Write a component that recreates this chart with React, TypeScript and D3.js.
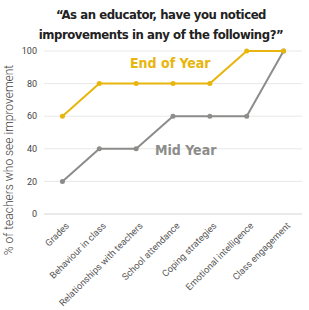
import React, { useEffect, useRef } from "react";
import * as d3 from "d3";

const categories = [
  "Grades",
  "Behaviour in class",
  "Relationships with teachers",
  "School attendance",
  "Coping strategies",
  "Emotional intelligence",
  "Class engagement",
];
const endOfYear = [60, 80, 80, 80, 80, 100, 100];
const midYear = [20, 40, 40, 60, 60, 60, 100];
const yTicks = [0, 20, 40, 60, 80, 100];

const App = () => {
  const svgRef = useRef<SVGSVGElement>(null);

  useEffect(() => {
    const svg = d3.select(svgRef.current);
    svg.selectAll("*").remove();

    const left = 44, right = 302, top = 51, bottom = 214;
    const x = d3.scaleBand().domain(categories).range([left, right]);
    const y = d3.scaleLinear().domain([0, 100]).range([bottom, top]);
    const cx = (d: string) => (x(d) as number) + x.bandwidth() / 2;

    // title
    const title = svg.append("text")
      .attr("text-anchor", "middle")
      .attr("font-family", "DejaVu Sans Condensed, DejaVu Sans")
      .attr("font-weight", "bold")
      .attr("font-size", "13px")
      .attr("letter-spacing", "-0.45px")
      .attr("fill", "#222");
    title.append("tspan").attr("x", 161).attr("y", 19).text("\u201cAs an educator, have you noticed");
    title.append("tspan").attr("x", 161).attr("y", 39).text("improvements in any of the following?\u201d");

    // grid
    svg.append("g")
      .selectAll("line")
      .data(yTicks)
      .enter()
      .append("line")
      .attr("x1", left)
      .attr("x2", right)
      .attr("y1", (d) => y(d))
      .attr("y2", (d) => y(d))
      .attr("stroke", (d) => (d === 0 ? "#d4d4d4" : "#e8e8e8"))
      .attr("stroke-width", 1);

    svg.append("g")
      .selectAll("text")
      .data(yTicks)
      .enter()
      .append("text")
      .attr("x", 37)
      .attr("y", (d) => y(d))
      .attr("dy", "0.35em")
      .attr("text-anchor", "end")
      .attr("font-family", "Roboto, sans-serif")
      .attr("font-size", "9px")
      .attr("fill", "#444")
      .text((d) => d);

    svg.append("text")
      .attr("transform", "translate(13,160) rotate(-90)")
      .attr("text-anchor", "middle")
      .attr("font-family", "Roboto, sans-serif")
      .attr("font-size", "12px")
      .attr("font-weight", 300)
      .attr("fill", "#444")
      .text("% of teachers who see improvement");

    // x labels
    svg.append("g")
      .selectAll("text")
      .data(categories)
      .enter()
      .append("text")
      .attr("transform", (d) => "translate(" + (cx(d) + 5) + ",224) rotate(-45)")
      .attr("text-anchor", "end")
      .attr("dy", "0.35em")
      .attr("font-family", "Roboto, sans-serif")
      .attr("font-size", "9.3px")
      .attr("fill", "#555")
      .text((d) => d);

    const series = [
      { values: midYear, color: "#8c8c8a" },
      { values: endOfYear, color: "#e8b50c" },
    ];
    const line = d3.line<number>()
      .x((d, i) => cx(categories[i]))
      .y((d) => y(d));

    series.forEach((s) => {
      svg.append("path")
        .datum(s.values)
        .attr("d", line)
        .attr("fill", "none")
        .attr("stroke", s.color)
        .attr("stroke-width", 2);
      svg.append("g")
        .selectAll("circle")
        .data(s.values)
        .enter()
        .append("circle")
        .attr("cx", (d, i) => cx(categories[i]))
        .attr("cy", (d) => y(d))
        .attr("r", 2.5)
        .attr("fill", s.color);
    });

    svg.append("text")
      .attr("x", 130)
      .attr("y", 68)
      .attr("font-family", "DejaVu Sans Condensed, DejaVu Sans")
      .attr("font-weight", "bold")
      .attr("font-size", "14px")
      .attr("fill", "#e8b50c")
      .text("End of Year");

    svg.append("text")
      .attr("x", 155)
      .attr("y", 155)
      .attr("font-family", "DejaVu Sans Condensed, DejaVu Sans")
      .attr("font-weight", "bold")
      .attr("font-size", "14px")
      .attr("fill", "#8c8c8a")
      .text("Mid Year");
  }, []);

  return (
    <svg ref={svgRef} width={309} height={310} style={{ position: "absolute", left: 0, top: 0 }} />
  );
};

export default App;
